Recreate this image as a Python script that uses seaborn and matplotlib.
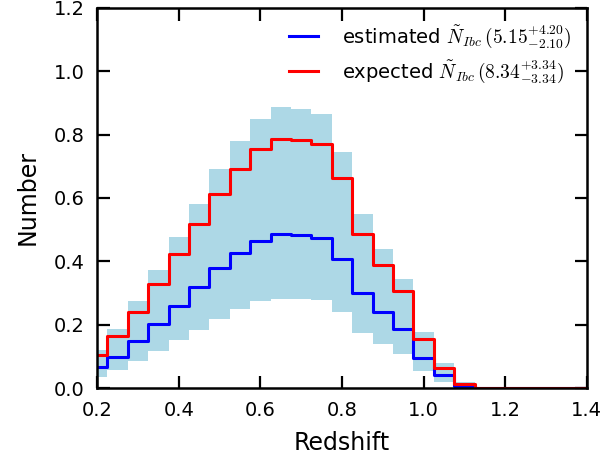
import numpy as np
import matplotlib
matplotlib.use('Agg')
import matplotlib.pyplot as plt
import seaborn as sns

# %% Dados (centros dos bins de redshift)
redshift = [0.20, 0.25, 0.30, 0.35, 0.40, 0.45, 0.50, 0.55, 0.60, 0.65,
            0.70, 0.75, 0.80, 0.85, 0.90, 0.95, 1.00, 1.05, 1.10, 1.15,
            1.20, 1.25, 1.30, 1.35, 1.40]
estimated = [0.067, 0.099, 0.149, 0.204, 0.260, 0.318, 0.378, 0.427, 0.465, 0.485,
             0.483, 0.475, 0.407, 0.301, 0.241, 0.187, 0.096, 0.041, 0.007, 0.0,
             0.0, 0.0, 0.0, 0.0, 0.0]
expected = [0.104, 0.165, 0.241, 0.330, 0.422, 0.517, 0.613, 0.693, 0.756, 0.786,
            0.783, 0.770, 0.662, 0.486, 0.389, 0.305, 0.155, 0.065, 0.013, 0.0,
            0.0, 0.0, 0.0, 0.0, 0.0]
band_upper = [0.120, 0.187, 0.274, 0.373, 0.477, 0.581, 0.690, 0.779, 0.849, 0.886,
              0.881, 0.864, 0.744, 0.548, 0.439, 0.344, 0.176, 0.078, 0.020, 0.0,
              0.0, 0.0, 0.0, 0.0, 0.0]
band_lower = [0.036, 0.057, 0.085, 0.117, 0.152, 0.185, 0.219, 0.249, 0.275, 0.281,
              0.281, 0.277, 0.239, 0.175, 0.138, 0.107, 0.055, 0.020, 0.0, 0.0,
              0.0, 0.0, 0.0, 0.0, 0.0]
xticks = [0.2, 0.4, 0.6, 0.8, 1.0, 1.2, 1.4]
yticks = [0.0, 0.2, 0.4, 0.6, 0.8, 1.0, 1.2]

label_est = r'estimated $\tilde{N}_{Ibc}\,(5.15^{+4.20}_{-2.10})$'
label_exp = r'expected $\tilde{N}_{Ibc}\,(8.34^{+3.34}_{-3.34})$'

# %% Estilo clássico (matplotlib antigo)
plt.rcParams['font.family'] = ['DejaVu Sans']
plt.rcParams['mathtext.fontset'] = 'cm'
plt.rcParams['axes.linewidth'] = 1.8

fig = plt.figure(figsize=(6.08, 4.61), dpi=100)
ax = fig.add_axes([0.16, 0.158, 0.805, 0.825])

ax.fill_between(redshift, band_lower, band_upper, step='mid', color='lightblue',
                linewidth=0)
sns.lineplot(x=redshift, y=estimated, drawstyle='steps-mid', color='blue',
             linewidth=2.2, label=label_est, ax=ax)
sns.lineplot(x=redshift, y=expected, drawstyle='steps-mid', color='red',
             linewidth=2.2, label=label_exp, ax=ax)

ax.set_xlim(0.2, 1.4)
ax.set_ylim(0.0, 1.2)
ax.set_xticks(xticks)
ax.set_yticks(yticks)
ax.tick_params(which='major', direction='in', length=9, width=1.6, top=True,
               right=True, labelsize=14, pad=9, colors='black')

ax.set_xlabel('Redshift', fontsize=17, labelpad=8)
ax.set_ylabel('Number', fontsize=17, labelpad=10)

leg = ax.legend(loc='upper right', frameon=False, fontsize=14, handlelength=1.5,
                handletextpad=1.2, labelspacing=0.45, borderaxespad=0.4)

plt.savefig('out.png', dpi=100)
